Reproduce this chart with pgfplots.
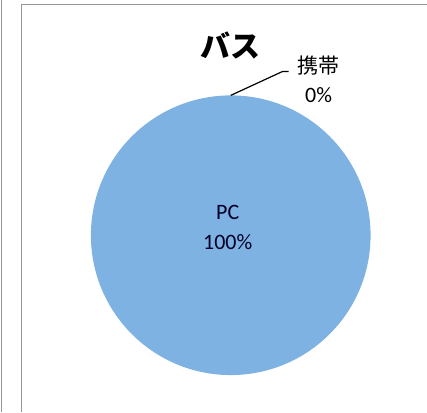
\documentclass[border=0pt]{standalone}
\usepackage{pgfplots}
\pgfplotsset{compat=1.18}
\usepackage{pgfplotstable}
\usepackage{fontspec}
\setmainfont{Carlito}
\newfontfamily\jp{Noto Sans CJK JP}
\definecolor{piecol}{RGB}{125,178,227}
\definecolor{bordercol}{RGB}{150,150,150}
\pgfplotstableread{
label value
PC 100
Mobile 0
}\datatable
\begin{document}
\begin{tikzpicture}
\pgfplotstablegetelem{0}{value}\of\datatable
\let\vPC\pgfplotsretval
\pgfplotstablegetelem{1}{value}\of\datatable
\let\vMob\pgfplotsretval
\begin{axis}[x=1pt,y=1pt,xmin=0,xmax=427,ymin=0,ymax=412,hide axis,clip=false,
  /pgf/number format/assume math mode=true]
\path[fill=white] (axis cs:0,0) rectangle (axis cs:427,412);
% frame (scanned page borders)
\draw[bordercol,line width=1pt] (axis cs:2,0) -- (axis cs:2,412);
\draw[bordercol,line width=1pt] (axis cs:22,0) -- (axis cs:22,408) -- (axis cs:427,408);
% pie slices: start at top, clockwise
\pgfmathsetmacro{\aEnd}{90-3.6*\vPC}
\fill[piecol] (axis cs:231,177) -- ++(90:140pt) arc[start angle=90, end angle=\aEnd, radius=140pt] -- cycle;
% leader line for 0% slice
\draw[black,line width=1.2pt] (axis cs:231,317) -- (axis cs:283,341) -- (axis cs:289,341);
% labels
\node[font=\jp\bfseries\fontsize{30}{33}\selectfont] at (axis cs:231,367) {バス};
\node[font=\jp\fontsize{21}{24}\selectfont] at (axis cs:319,347) {携帯};
\node[font=\fontsize{22}{24}\selectfont] at (axis cs:319,317) {\pgfmathprintnumber[assume math mode=true]{\vMob}\%};
\node[font=\fontsize{22}{24}\selectfont,text=black!85!blue] at (axis cs:228,200) {PC};
\node[font=\fontsize{22}{24}\selectfont,text=black!85!blue] at (axis cs:228,170) {\pgfmathprintnumber[assume math mode=true]{\vPC}\%};
\end{axis}
\end{tikzpicture}
\end{document}
